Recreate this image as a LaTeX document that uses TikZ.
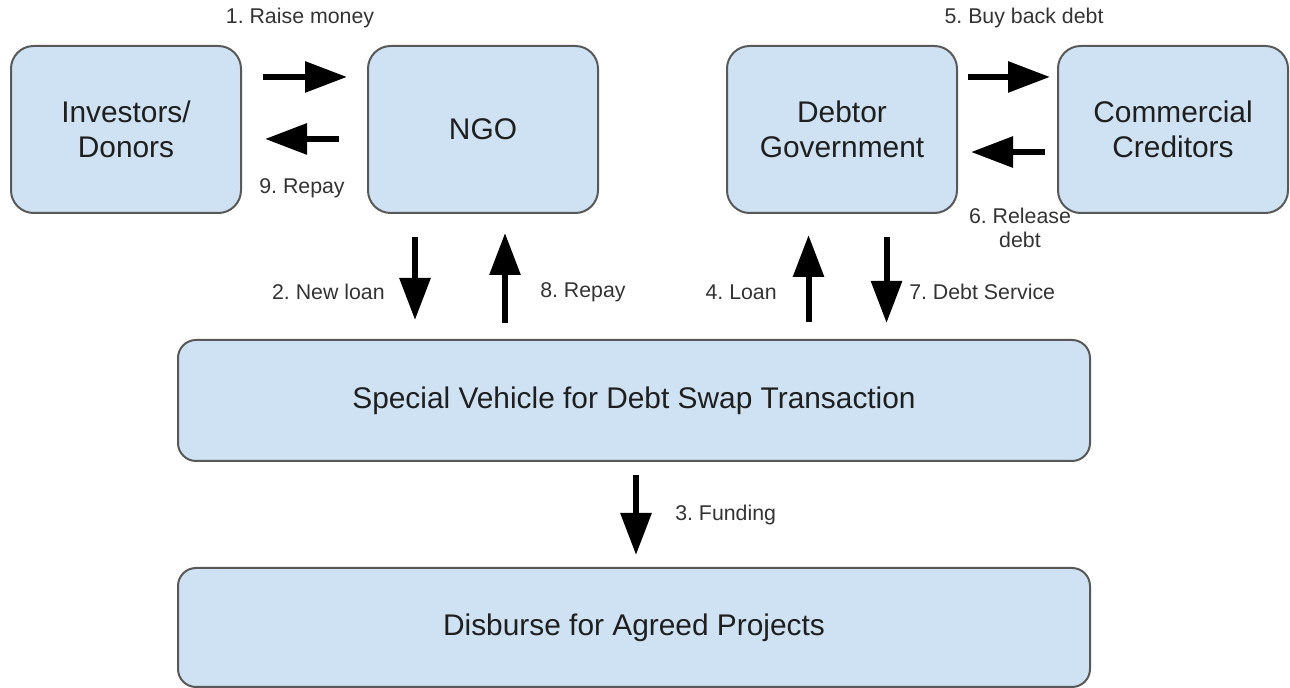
\documentclass[tikz,border=0pt]{standalone}
\usepackage{fontspec}
\setmainfont{Liberation Sans}
\usepackage{xcolor}
\usepackage{tikz}
\usetikzlibrary{arrows.meta, positioning, calc}
\frenchspacing
\definecolor{boxfill}{HTML}{CFE2F3}
\definecolor{boxline}{HTML}{595959}
\tikzstyle{party}  = [rectangle, rounded corners=17pt, minimum width=172.5pt,
                      minimum height=125.25pt, align=center, draw=boxline,
                      fill=boxfill, line width=1.5pt, outer sep=0pt,
                      text=black!88, font=\fontsize{22.4}{26}\selectfont]
\tikzstyle{wide}   = [party, rounded corners=13.5pt, minimum width=684pt,
                      minimum height=90.75pt]
\tikzstyle{arr}    = [-{Triangle[length=31.5pt, width=22.5pt]}, line width=4.5pt]
\tikzstyle{lbl}    = [inner sep=0pt, align=center, text=black!80,
                      font=\fontsize{16}{18}\selectfont]

\begin{document}
\begin{tikzpicture}[x=0.75pt, y=0.75pt]
  \useasboundingbox (0,0) rectangle (1290,688);

  \node[party] (inv) at (126,558.5) {Investors/\\Donors};
  \node[party, right=95.25pt of inv] (ngo) {NGO};
  \node[party, right=96.75pt of ngo] (gov) {Debtor\\Government};
  \node[party, right=75.75pt of gov] (cred) {Commercial\\Creditors};
  \node[wide] (spv) at (634,287.5) {Special Vehicle for Debt Swap Transaction};
  \node[wide, below=80.25pt of spv, minimum height=89.25pt] (proj) {Disburse for Agreed Projects};

  \draw[arr, shorten <=16.5pt, shorten >=15.75pt] ([yshift=39.4pt]inv.east) -- ([yshift=39.4pt]ngo.west);
  \draw[arr, shorten <=21.75pt, shorten >=18pt] ([yshift=-7.1pt]ngo.west) -- ([yshift=-7.1pt]inv.east);
  \draw[arr, shorten <=8.25pt, shorten >=6pt] ([yshift=39.4pt]gov.east) -- ([yshift=39.4pt]cred.west);
  \draw[arr, shorten <=9.75pt, shorten >=10.5pt] ([yshift=-16.9pt]cred.west) -- ([yshift=-16.9pt]gov.east);

  \draw[arr, shorten <=18pt, shorten >=15pt] ([xshift=-51pt]ngo.south) -- ([xshift=-51pt]ngo.south |- spv.north);
  \draw[arr, shorten <=12.75pt, shorten >=15pt] ([xshift=16.5pt]ngo.south |- spv.north) -- ([xshift=16.5pt]ngo.south);
  \draw[arr, shorten <=13.5pt, shorten >=16.5pt] ([xshift=-25.1pt]gov.south |- spv.north) -- ([xshift=-25.1pt]gov.south);
  \draw[arr, shorten <=18pt, shorten >=12.75pt] ([xshift=33.4pt]gov.south) -- ([xshift=33.4pt]gov.south |- spv.north);
  \draw[arr, shorten <=10.5pt, shorten >=9.75pt] ([xshift=1.5pt]spv.south) -- ([xshift=1.5pt]proj.north);

  \node[lbl] (l1) at (300,670) {1. Raise money};
  \node[lbl] (l9) at (302,500) {9. Repay};
  \node[lbl, anchor=east] (l2) at (385,396) {2. New loan};
  \node[lbl, anchor=west] (l8) at (540,396) {8. Repay};
  \node[lbl, anchor=east] (l4) at (777,396) {4. Loan};
  \node[lbl, anchor=west] (l7) at (909,396) {7. Debt Service};
  \node[lbl] (l5) at (1024,670) {5. Buy back debt};
  \node[lbl] (l6) at (1020,460) {6. Release\\debt};
  \node[lbl, anchor=west] (l3) at (675,173) {3. Funding};
\end{tikzpicture}
\end{document}
